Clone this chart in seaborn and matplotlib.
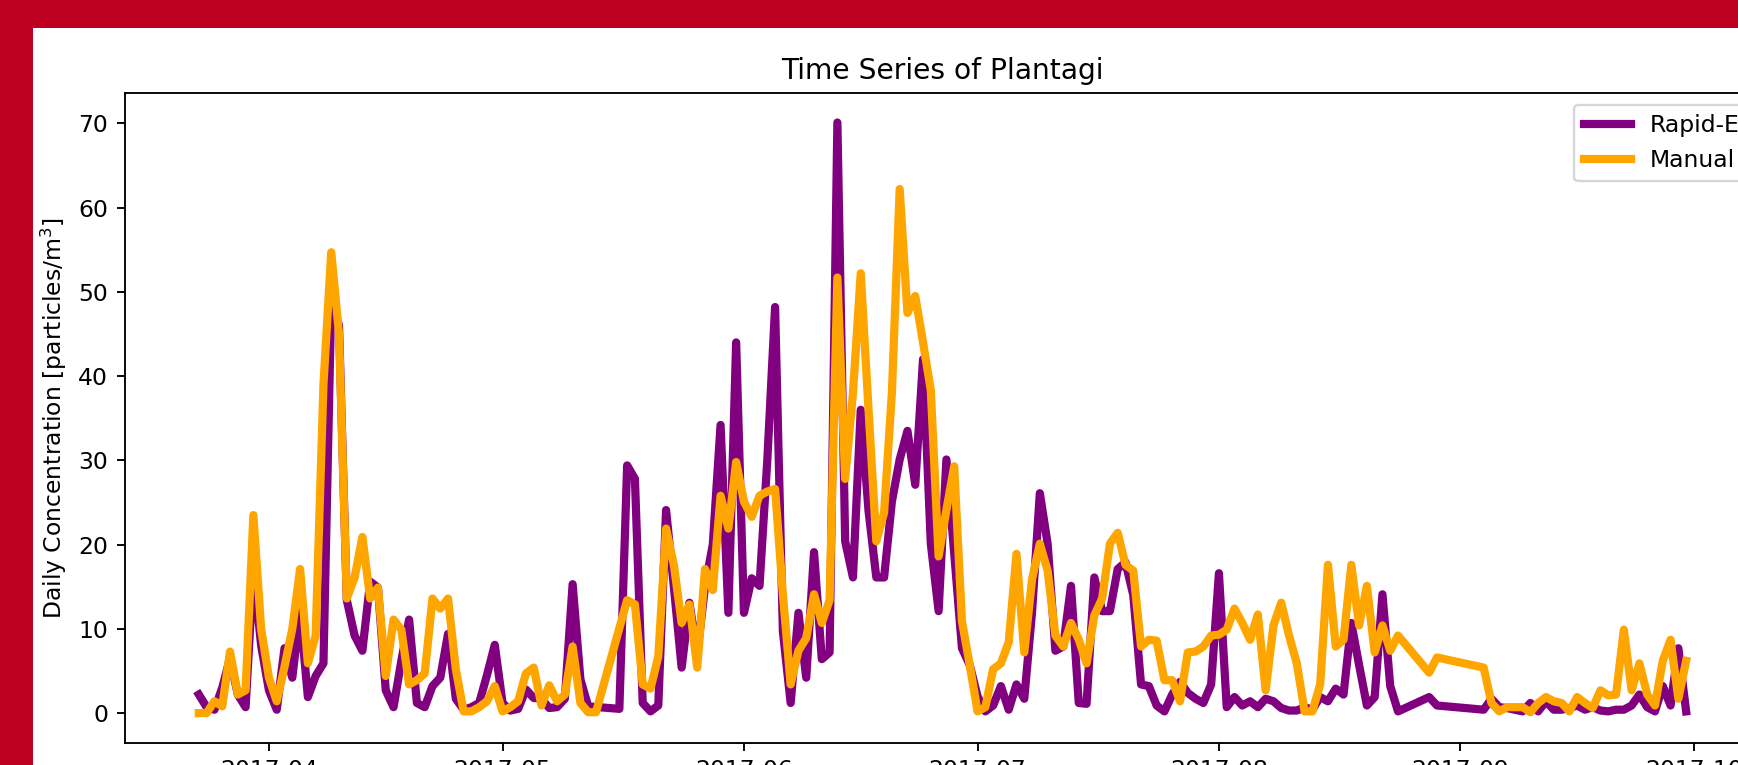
import numpy as np
import pandas as pd
import matplotlib
matplotlib.use("Agg")
import matplotlib.pyplot as plt
import matplotlib.dates as mdates
from matplotlib.patches import Rectangle
import seaborn as sns

start_date = "2017-03-23"

rapid_e = [
    2.2, 0.7, 0.4, 3.0, 6.5, 2.2, 0.7, 17.0, 8.0, 2.7,
    0.4, 7.7, 4.2, 12.1, 1.9, 4.4, 5.9, 49.0, 46.0, 13.4,
    9.2, 7.4, 15.6, 14.9, 2.7, 0.7, 6.2, 11.1, 1.2, 0.7,
    3.2, 4.2, 9.4, 1.7, 0.4, 0.7, 1.2, 4.5, 8.1, 1.2,
    0.3, 0.5, 2.8, 1.8, 1.7, 0.6, 0.7, 1.7, 15.3, 4.0,
    0.8, None, None, None, 0.5, 29.4, 27.8, 1.2, 0.2, 0.9,
    24.1, 15.0, 5.4, 13.1, 7.0, 15.0, 20.0, 34.2, 11.9, 44.0,
    11.9, 16.0, 15.1, 30.0, 48.2, 9.7, 1.2, 11.9, 4.2, 19.1,
    6.4, 7.2, 70.1, 20.4, 16.1, 36.0, 24.0, 16.1, 16.1, 25.1,
    30.1, 33.5, 27.1, 42.0, 20.1, 12.1, 30.1, 19.0, 7.7, 5.7,
    2.0, 0.2, 0.9, 3.2, 0.4, 3.4, 1.7, 12.0, 26.1, 20.1,
    7.4, 7.9, 15.1, 1.2, 1.1, 16.1, 12.1, 12.1, 17.1, 17.9,
    14.0, 3.4, 3.2, 0.9, 0.2, 2.2, 3.7, 2.4, 1.7, 1.2,
    3.4, 16.6, 0.7, 1.9, 0.9, 1.4, 0.7, 1.7, 1.4, 0.6,
    0.3, 0.3, 0.7, 0.4, 1.9, 1.4, 2.9, 2.2, 10.7, 5.7,
    0.9, 1.9, 14.1, 3.2, 0.2, None, None, None, 1.9, 0.9,
    None, None, None, None, None, 0.4, 1.7, 0.7, 0.6, 0.4,
    0.2, 1.2, 0.2, 1.4, 0.4, 0.4, 0.6, 0.9, 0.4, 0.7,
    0.3, 0.2, 0.4, 0.4, 0.9, 2.2, 0.7, 0.2, 3.2, 0.9,
    7.7, 0.2,
]

manual = [
    0.0, 0.0, 1.4, 0.8, 7.3, 2.2, 2.7, 23.5, 10.0, 4.2,
    1.4, 5.5, 10.0, 17.1, 5.9, 9.2, 39.0, 54.7, 45.0, 13.6,
    16.1, 20.9, 13.6, 14.9, 4.4, 11.1, 9.9, 3.4, 3.9, 4.7,
    13.6, 12.4, 13.6, 5.2, 0.2, 0.2, 0.7, 1.4, 3.2, 0.2,
    0.7, 1.4, 4.7, 5.4, 0.9, 3.3, 1.4, 2.2, 7.9, 1.2,
    0.1, 0.1, None, None, None, 13.4, 12.9, 3.4, 2.9, 6.7,
    21.9, 17.6, 10.7, 12.9, 5.4, 17.1, 14.6, 25.8, 21.9, 29.8,
    25.1, 23.3, 25.8, 26.3, 26.6, 14.1, 3.4, 7.4, 8.9, 14.1,
    10.7, 13.4, 51.7, 27.8, 38.0, 52.2, 36.0, 20.4, 23.8, 38.0,
    62.2, 47.5, 49.5, 44.0, 38.3, 18.6, 24.1, 29.3, 10.9, 5.7,
    0.2, 0.7, 5.2, 5.9, 8.4, 18.9, 7.2, 15.9, 20.1, 16.9,
    9.2, 7.9, 10.7, 8.7, 5.9, 11.6, 13.6, 20.1, 21.4, 17.6,
    16.9, 7.9, 8.7, 8.6, 3.9, 3.9, 1.4, 7.2, 7.3, 7.9,
    9.2, 9.3, 9.9, 12.4, 10.7, 8.7, 11.7, 2.7, 10.4, 13.1,
    9.2, 5.9, 0.2, 0.2, 3.4, 17.6, 7.9, 8.7, 17.6, 10.4,
    15.1, 7.2, 10.4, 7.4, 9.2, None, None, None, 4.8, 6.6,
    None, None, None, None, None, 5.4, 1.2, 0.2, 0.7, 0.7,
    0.7, 0.1, 1.2, 1.9, 1.4, 1.2, 0.2, 1.9, 1.2, 0.6,
    2.7, 2.1, 2.2, 9.9, 2.7, 5.9, 2.2, 0.9, 6.2, 8.7,
    1.7, 6.2,
]

series_labels = ["Rapid-E", "Manual"]
series_colors = ["purple", "orange"]


def to_frame(values):
    """daily values -> dataframe without the missing days"""
    df = pd.DataFrame({
        "date": pd.date_range(start_date, periods=len(values), freq="D"),
        "value": pd.to_numeric(pd.Series(values, dtype="float")),
    })
    return df.dropna()


W, H, DPI = 1738, 765, 169
fig = plt.figure(figsize=(W / DPI, H / DPI), dpi=DPI, facecolor="#BE0020")
# white sheet inside the red frame
fig.add_artist(Rectangle((33 / W, 0), 1, (H - 28) / H, transform=fig.transFigure,
                         facecolor="white", edgecolor="none", zorder=-1))

ax = fig.add_axes([124.5 / W, 22.4 / H, 1636 / W, 649.6 / H])

for vals, lab, col in zip([rapid_e, manual], series_labels, series_colors):
    sns.lineplot(data=to_frame(vals), x="date", y="value", color=col,
                 linewidth=3.5, label=lab, ax=ax)

ax.xaxis.set_major_locator(mdates.MonthLocator())
ax.xaxis.set_major_formatter(mdates.DateFormatter("%Y-%m"))
ax.set_xlabel("")
ax.set_ylabel("Daily Concentration [particles/m$^3$]")
ax.set_title("Time Series of Plantagi")
ax.legend(loc="upper right")

fig.savefig("out.png", dpi=DPI, facecolor=fig.get_facecolor())
